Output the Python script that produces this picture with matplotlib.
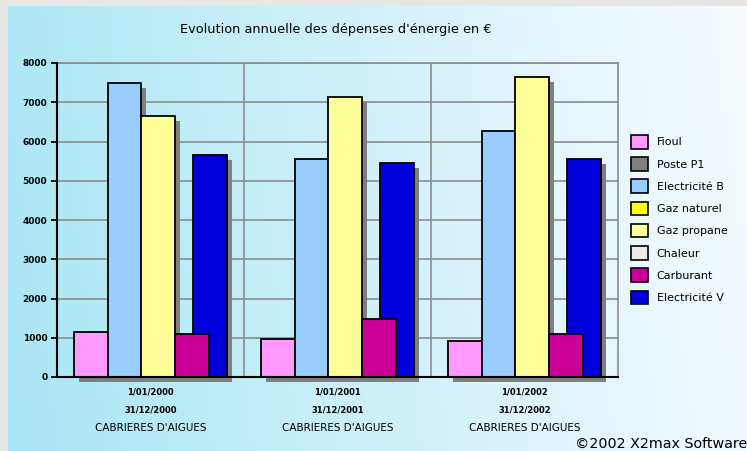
import numpy as np
import matplotlib
matplotlib.use('Agg')
from matplotlib import pyplot as plt
from matplotlib.patches import Patch
from matplotlib import transforms

# data
groups = ['2000', '2001', '2002']
start_labels = ['1/01/2000', '1/01/2001', '1/01/2002']
end_labels = ['31/12/2000', '31/12/2001', '31/12/2002']
site = "CABRIERES D'AIGUES"

series_names = ['Fioul', 'Poste P1', 'Electricité B', 'Gaz naturel',
                'Gaz propane', 'Chaleur', 'Carburant', 'Electricité V']
series_colors = ['#ff99ff', '#808080', '#99ccff', '#ffff00',
                 '#ffff99', '#eaeaea', '#cc0099', '#0000dd']

fioul = [1150, 980, 920]
elec_b = [7500, 5550, 6260]
gaz_propane = [6650, 7130, 7640]
carburant = [1100, 1480, 1100]
elec_v = [5650, 5440, 5550]

W, H = 747, 451
fig = plt.figure(figsize=(W / 100, H / 100), dpi=100)
fig.patch.set_facecolor('#e9e7e3')

# gradient panel
bg = fig.add_axes([8 / W, 0, 1 - 8 / W, 1 - 6 / H])
xx, yy = np.meshgrid(np.linspace(0, 1, 300), np.linspace(0, 1, 200))
t = np.clip(0.92 * xx + 0.08 * (1 - yy), 0, 1)
c0 = np.array([169, 230, 245]) / 255
c1 = np.array([248, 252, 255]) / 255
img = c0[None, None, :] * (1 - t[..., None]) + c1[None, None, :] * t[..., None]
bg.imshow(img, aspect='auto', extent=[0, 1, 0, 1], origin='upper')
bg.axis('off')

ax = fig.add_axes([57 / W, (H - 377) / H, (618 - 57) / W, (377 - 63) / H])
ax.set_facecolor('none')
ax.set_xlim(-0.5, 2.5)
ax.set_ylim(0, 8000)

x = np.arange(len(groups))
width = 0.181
# draw order: shadows first, then bars (Elec V behind Carburant)
bars = [(fioul, -0.32, series_colors[0]),
        (elec_b, -0.139, series_colors[2]),
        (gaz_propane, 0.042, series_colors[4]),
        (elec_v, 0.316, series_colors[7]),
        (carburant, 0.223, series_colors[6])]

shadow = transforms.offset_copy(ax.transData, fig=fig, x=5, y=-5, units='dots')
for vals, off, col in bars:
    ax.bar(x + off, vals, width, color='#7f7f7f', transform=shadow,
           clip_on=False, zorder=2, linewidth=0)
for vals, off, col in bars:
    ax.bar(x + off, vals, width, color=col, edgecolor='black',
           linewidth=1.3, zorder=3)

# grid
ax.set_yticks(np.arange(0, 8001, 1000))
ax.set_yticklabels([str(v) for v in range(0, 8001, 1000)],
                   fontsize=6.5, fontweight='bold')
for v in range(1000, 8001, 1000):
    ax.axhline(v, color='#8c8c8c', lw=1.2, zorder=1)
for g in [0.5, 1.5]:
    ax.axvline(g, color='#8c8c8c', lw=1.2, zorder=1)
ax.spines['top'].set_color('#8c8c8c')
ax.spines['right'].set_color('#8c8c8c')
ax.spines['top'].set_linewidth(1.2)
ax.spines['right'].set_linewidth(1.2)
ax.spines['left'].set_linewidth(1.5)
ax.spines['bottom'].set_linewidth(1.5)
ax.spines['left'].set_zorder(4)
ax.spines['bottom'].set_zorder(4)
ax.tick_params(axis='y', length=4, width=1.3, pad=3)
ax.set_xticks([])

tr = transforms.blended_transform_factory(ax.transData, fig.transFigure)
for i in range(len(groups)):
    ax.text(x[i], 1 - 392 / H, start_labels[i], transform=tr, ha='center',
            va='center', fontsize=6, fontweight='bold')
    ax.text(x[i], 1 - 410 / H, end_labels[i], transform=tr, ha='center',
            va='center', fontsize=6, fontweight='bold')
    ax.text(x[i], 1 - 428 / H, site, transform=tr, ha='center',
            va='center', fontsize=7.5)

fig.text(336 / W, 1 - 30 / H, "Evolution annuelle des dépenses d'énergie en €",
         ha='center', va='center', fontsize=9.3)
fig.text(1.0, 1 - 444 / H, '©2002 X2max Software', ha='right', va='center',
         fontsize=10.3)

handles = [Patch(facecolor=c, edgecolor='black', linewidth=1.2)
           for c in series_colors]
fig.legend(handles, series_names, loc='upper left',
           bbox_to_anchor=(621 / W, 1 - 125 / H), frameon=False,
           fontsize=8, handlelength=1.5, handleheight=1.5,
           labelspacing=0.78, handletextpad=0.8)

fig.savefig('out.png', dpi=100)
